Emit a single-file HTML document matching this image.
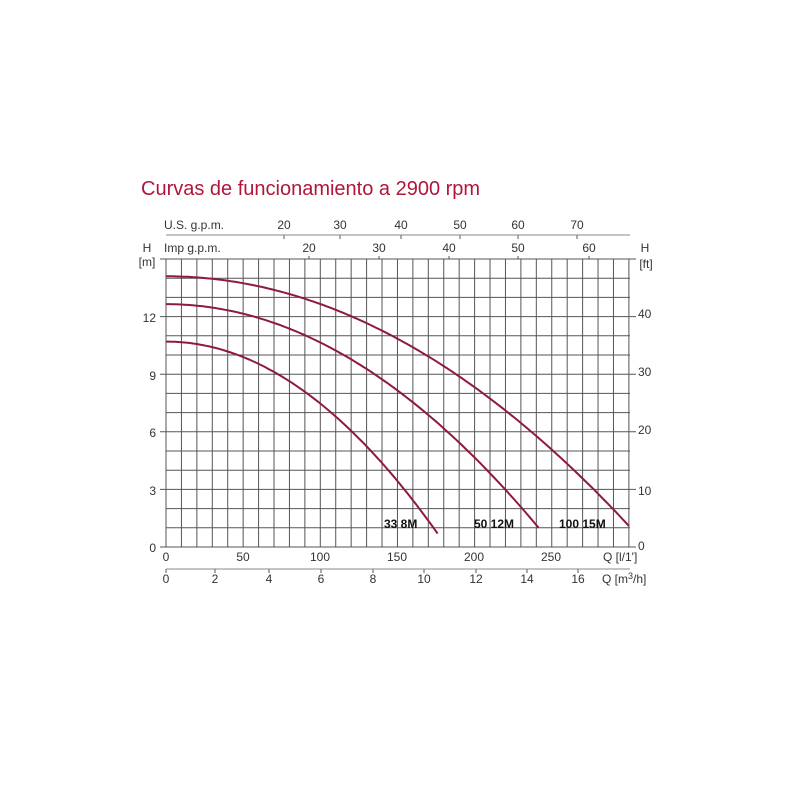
<!DOCTYPE html>
<html><head><meta charset="utf-8"><style>
body{margin:0;background:#fff;width:800px;height:800px;overflow:hidden}
svg text{font-family:"Liberation Sans",sans-serif;fill:#333;font-size:12px}
</style></head><body>
<svg id="s" width="800" height="800" xmlns="http://www.w3.org/2000/svg">
<text x="141" y="195" style="font-size:20px;fill:#b0163b">Curvas de funcionamiento a 2900 rpm</text>
<line x1="166" y1="235" x2="630" y2="235" stroke="#888" stroke-width="1"/>
<text x="164" y="229">U.S. g.p.m.</text>
<g text-anchor="middle">
<text x="284" y="229">20</text><text x="340" y="229">30</text><text x="401" y="229">40</text><text x="460" y="229">50</text><text x="518" y="229">60</text><text x="577" y="229">70</text>
<text x="309" y="252">20</text><text x="379" y="252">30</text><text x="449" y="252">40</text><text x="518" y="252">50</text><text x="589" y="252">60</text>
<text x="147" y="252">H</text><text x="147" y="266">[m]</text>
<text x="645" y="252">H</text><text x="646" y="268">[ft]</text>
</g>
<text x="164" y="252">Imp g.p.m.</text>
<g text-anchor="end">
<text x="156" y="322">12</text><text x="156" y="380">9</text><text x="156" y="437">6</text><text x="156" y="495">3</text><text x="156" y="552">0</text>
</g>
<g>
<text x="638" y="318">40</text><text x="638" y="376">30</text><text x="638" y="434">20</text><text x="638" y="495">10</text><text x="638" y="550">0</text>
</g>
<g text-anchor="middle">
<text x="166" y="561">0</text><text x="243" y="561">50</text><text x="320" y="561">100</text><text x="397" y="561">150</text><text x="474" y="561">200</text><text x="551" y="561">250</text>
<text x="166" y="583">0</text><text x="215" y="583">2</text><text x="269" y="583">4</text><text x="321" y="583">6</text><text x="373" y="583">8</text><text x="424" y="583">10</text><text x="476" y="583">12</text><text x="527" y="583">14</text><text x="578" y="583">16</text>
</g>
<text x="603" y="561">Q [l/1']</text>
<text x="602" y="583">Q [m<tspan dy="-4" style="font-size:9px">3</tspan><tspan dy="4">/h]</tspan></text>
<line x1="166" y1="569" x2="630" y2="569" stroke="#888" stroke-width="1"/>
<g style="font-weight:bold;font-size:12px">
<text x="384" y="528" style="fill:#111">33 8M</text>
<text x="474" y="528" style="fill:#111">50 12M</text>
<text x="559" y="528" style="fill:#111">100 15M</text>
</g>
</svg>
<script>
var s=document.getElementById('s'),ns='http://www.w3.org/2000/svg';
function el(t,a){var e=document.createElementNS(ns,t);for(var k in a)e.setAttribute(k,a[k]);s.insertBefore(e,s.firstChild);return e;}
var X=function(q){return 166+q*1.543},Y=function(h){return 547-h*19.2};
var g='';
for(var i=0;i<=30;i++){var x=X(i*10);g+='M'+x+' 259V547';}
for(var j=0;j<=15;j++){var y=Y(j);g+='M166 '+y+'H630';if(j%3==0)g+='M160 '+y+'H166M630 '+y+'H636';}
['20','30','40','50','60','70'].forEach(function(){});
[284,340,401,460,518,577].forEach(function(x){g+='M'+x+' 235v4';});
[309,379,449,518,589].forEach(function(x){g+='M'+x+' 256v3';});
[166,215,269,321,373,424,476,527,578].forEach(function(x){g+='M'+x+' 569v4';});
el('path',{d:g,stroke:'#555',"stroke-width":'1',fill:'none'});
var curves=[[14.1,13/90000,300],[12.65,11.65/58322,241.5],[10.7,10/30976,176]];
curves.forEach(function(c){var d='';for(var q=0;q<=c[2];q+=2){d+=(q?'L':'M')+X(q).toFixed(1)+' '+Y(c[0]-c[1]*q*q).toFixed(1);}
d+='L'+X(c[2]).toFixed(1)+' '+Y(c[0]-c[1]*c[2]*c[2]).toFixed(1);
var p=el('path',{d:d,stroke:'#8e1b3c',"stroke-width":'2',fill:'none'});s.appendChild(p);});
</script>
</body></html>
